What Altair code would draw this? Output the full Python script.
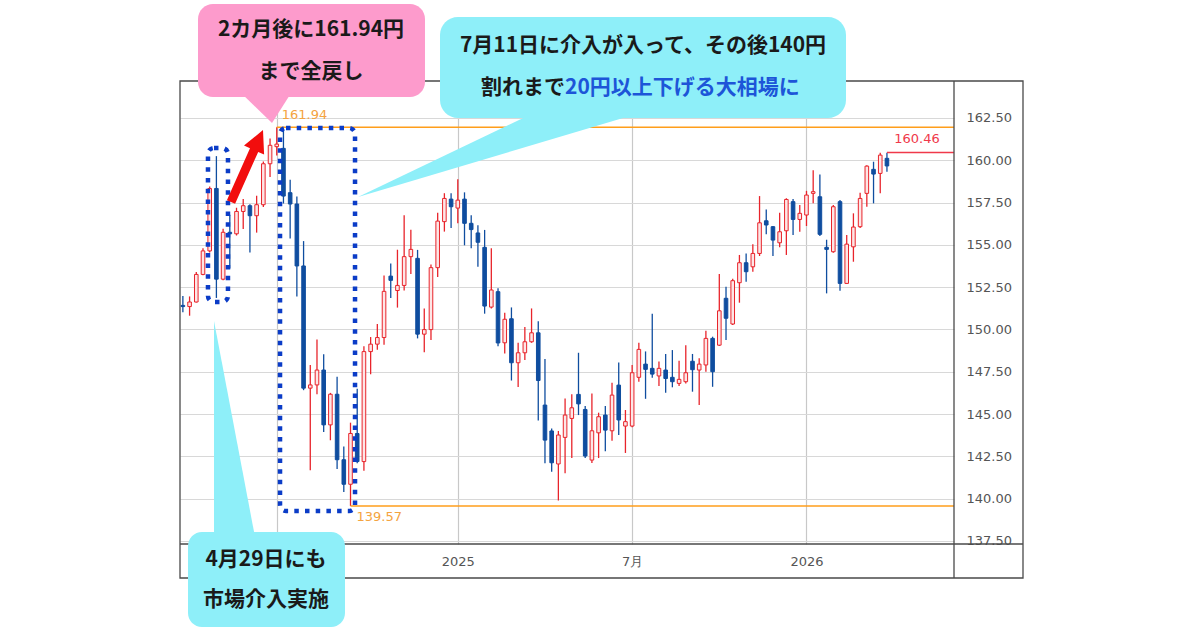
import altair as alt
import pandas as pd

# ---------------- data (USD/JPY weekly candles) ----------------
week_starts = pd.date_range("2024-03-25", periods=106, freq="7D").strftime("%Y-%m-%d").tolist()

opens = [151.42, 151.35, 151.62, 153.25, 154.64, 158.33, 152.97, 155.74, 155.65, 156.97,
         157.31, 156.72, 157.37, 159.79, 160.80, 160.70, 158.08, 157.41, 153.75, 146.53,
         146.72, 147.60, 144.36, 146.17, 142.30, 140.85, 143.85, 142.19, 148.69, 149.13,
         149.52, 153.15, 152.30, 152.60, 154.30, 154.20, 149.72, 149.99, 153.65, 156.37,
         157.70, 157.17, 157.70, 156.27, 155.70, 154.85, 151.32, 152.23, 149.21, 150.63,
         148.03, 148.62, 149.27, 149.80, 145.53, 144.00, 142.05, 143.62, 144.74, 146.16,
         145.27, 142.28, 143.89, 144.94, 144.01, 146.71, 144.29, 144.29, 147.17, 147.95,
         147.70, 147.25, 147.60, 147.17, 146.81, 146.91, 148.12, 147.60, 147.90, 149.47,
         149.07, 151.84, 150.32, 152.76, 153.94, 153.70, 154.49, 156.42, 156.07, 155.12,
         155.83, 157.55, 156.50, 156.76, 158.04, 157.84, 154.85, 154.59, 157.55, 152.72,
         154.88, 156.07, 158.04, 159.46, 159.22, 160.11]
highs = [151.97, 151.95, 153.39, 154.79, 158.44, 160.24, 155.95, 156.78, 157.19, 157.71,
         157.40, 157.90, 159.92, 161.28, 161.94, 161.80, 158.85, 157.86, 155.22, 147.90,
         149.40, 148.54, 146.25, 147.21, 143.08, 144.49, 146.49, 149.01, 149.55, 150.32,
         153.19, 153.89, 154.71, 156.75, 155.89, 154.70, 151.23, 153.84, 156.90, 158.05,
         158.05, 158.88, 158.10, 156.75, 156.16, 155.88, 154.80, 152.43, 150.99, 151.30,
         149.21, 150.15, 151.24, 150.49, 148.25, 144.15, 144.00, 145.92, 146.17, 148.62,
         145.47, 146.22, 145.08, 145.47, 146.85, 148.05, 145.24, 147.90, 149.21, 148.70,
         150.92, 148.10, 148.55, 148.78, 148.15, 149.07, 148.55, 148.29, 149.92, 149.57,
         153.27, 152.52, 153.00, 154.40, 154.49, 155.04, 157.88, 157.09, 156.11, 156.89,
         157.75, 157.70, 157.35, 158.19, 159.40, 159.16, 155.30, 157.35, 157.65, 155.58,
         156.86, 158.08, 159.70, 159.91, 160.44, 160.44]
lows = [151.02, 150.81, 151.59, 153.20, 154.54, 151.86, 152.90, 153.60, 155.55, 155.93,
        154.55, 155.72, 157.23, 159.00, 160.28, 157.44, 155.37, 151.94, 146.41, 141.68,
        146.17, 143.94, 143.45, 141.75, 140.40, 139.57, 142.09, 141.65, 147.35, 148.80,
        149.09, 151.85, 151.29, 152.30, 153.28, 149.47, 148.65, 149.38, 153.10, 155.78,
        155.99, 156.28, 154.97, 154.79, 153.71, 150.93, 151.24, 149.00, 148.57, 146.98,
        146.60, 148.20, 149.21, 144.62, 142.09, 141.59, 139.89, 141.50, 142.40, 144.94,
        142.40, 142.11, 142.40, 142.80, 143.42, 143.76, 142.70, 144.22, 146.91, 145.90,
        147.15, 146.65, 146.26, 146.58, 146.65, 146.81, 146.32, 145.53, 147.50, 146.61,
        149.02, 149.37, 150.26, 151.58, 152.82, 153.41, 154.34, 155.63, 154.34, 154.85,
        154.40, 155.58, 155.77, 156.11, 157.45, 155.52, 152.13, 154.53, 152.29, 152.68,
        154.00, 156.00, 157.25, 157.45, 158.04, 159.32]
closes = [151.35, 151.62, 153.25, 154.64, 158.33, 152.97, 155.74, 155.65, 156.97, 157.31,
          156.72, 157.37, 159.79, 160.88, 160.95, 157.88, 157.41, 153.75, 146.53, 146.72,
          147.60, 144.36, 146.17, 142.30, 140.85, 143.85, 142.19, 148.69, 149.13, 149.52,
          152.25, 152.90, 152.60, 154.30, 154.73, 149.72, 149.99, 153.65, 156.40, 157.74,
          157.25, 157.64, 156.27, 155.90, 155.15, 151.38, 152.33, 149.20, 150.60, 148.03,
          148.62, 149.27, 149.80, 146.98, 143.46, 142.12, 143.76, 144.94, 145.37, 145.60,
          142.52, 144.01, 144.84, 144.05, 146.12, 144.65, 144.55, 147.44, 148.82, 147.64,
          147.36, 147.70, 147.10, 146.91, 147.05, 147.44, 147.62, 147.95, 149.47, 147.50,
          151.10, 150.66, 152.88, 153.94, 153.41, 154.49, 156.30, 156.17, 155.28, 155.77,
          157.68, 156.50, 156.86, 157.94, 158.14, 155.62, 154.73, 157.25, 152.72, 155.04,
          156.05, 157.74, 159.65, 159.18, 160.30, 159.66]

# reference levels
orange_starts = ["2024-07-01", "2024-09-16"]
orange_levels = [161.94, 139.57]
last_start = ["2026-03-30"]
last_level = [160.46]

# axis ticks
y_ticks = [137.5, 140.0, 142.5, 145.0, 147.5, 150.0, 152.5, 155.0, 157.5, 160.0, 162.5]

df = pd.DataFrame({"date": week_starts, "open": opens, "high": highs,
                   "low": lows, "close": closes})
df["dir"] = ["up" if c >= o else "down" for o, c in zip(opens, closes)]

# ---------------- styling ----------------
RED = "#e8242b"
BLUE = "#0f4d9f"
PINKFILL = "#fde6e6"
ORANGE = "#ff9e1b"
PRICE_RED = "#f0394a"
DOT_BLUE = "#0b3cc7"
CALLOUT_PINK = "#fd9bcc"
CALLOUT_CYAN = "#8eeff9"
FRAME = "#4a4a4a"
JP_FONT = "Noto Sans CJK JP"

W, H = 774, 463

xscale = alt.Scale(type="utc", padding=0,
                   domain=[alt.DateTime(year=2024, month=3, date=22, utc=True),
                           alt.DateTime(year=2026, month=6, date=8, utc=True)])
yscale = alt.Scale(domain=[137.32, 164.68], zero=False, nice=False, padding=0)

xaxis = alt.Axis(
    values=[alt.DateTime(year=2024, month=7, date=1, utc=True),
            alt.DateTime(year=2025, month=1, date=6, utc=True),
            alt.DateTime(year=2025, month=7, date=7, utc=True),
            alt.DateTime(year=2026, month=1, date=5, utc=True)],
    # the July-2024 label sits under the callout box in the reference, so it is left blank
    labelExpr="utcyear(datum.value) == 2024 ? '' : (utcmonth(datum.value) == 0 ? '' + utcyear(datum.value) : (utcmonth(datum.value) + 1) + '月')",
    title=None, grid=True, gridColor="#c8c8c8", gridWidth=1.2, ticks=False, domain=False,
    labelPadding=11, labelFontSize=13, labelColor="#555555", labelFont="DejaVu Sans",
)
yaxis = alt.Axis(
    orient="right", values=y_ticks, format=".2f", title=None, grid=True,
    gridColor="#d8d8d8", gridWidth=1.2, ticks=False, domain=False, labelPadding=12,
    labelFontSize=13, labelColor="#555555", labelFont="DejaVu Sans",
)

X = alt.X("date:T", scale=xscale, axis=xaxis)

wicks = alt.Chart(df).mark_rule(strokeWidth=1.3).encode(
    x=X,
    y=alt.Y("low:Q", scale=yscale, axis=yaxis),
    y2="high:Q",
    color=alt.Color("dir:N", scale=alt.Scale(domain=["up", "down"], range=[RED, BLUE]), legend=None),
)
bodies = alt.Chart(df).mark_bar(size=3.6, strokeWidth=1).encode(
    x=X,
    y=alt.Y("open:Q", scale=yscale, axis=yaxis),
    y2="close:Q",
    fill=alt.Fill("dir:N", scale=alt.Scale(domain=["up", "down"], range=[PINKFILL, BLUE]), legend=None),
    stroke=alt.Stroke("dir:N", scale=alt.Scale(domain=["up", "down"], range=[RED, BLUE]), legend=None),
)

odf = pd.DataFrame({"start": orange_starts, "price": orange_levels})
ldf = pd.DataFrame({"start": last_start, "price": last_level})

XS = alt.X("start:T", scale=xscale, axis=xaxis)
YS = alt.Y("price:Q", scale=yscale, axis=yaxis)

orange_lines = alt.Chart(odf).mark_rule(color=ORANGE, strokeWidth=1.5).encode(x=XS, x2=alt.value(W), y=YS)
last_line = alt.Chart(ldf).mark_rule(color=PRICE_RED, strokeWidth=1.5).encode(x=XS, x2=alt.value(W), y=YS)

hi_label = alt.Chart(odf.iloc[[0]]).mark_text(align="left", baseline="middle", dx=5, dy=-12,
                                              color="#f4a340", fontSize=13, font="DejaVu Sans").encode(
    x=XS, y=YS, text=alt.Text("price:Q", format=".2f"))
lo_label = alt.Chart(odf.iloc[[1]]).mark_text(align="left", baseline="middle", dx=6, dy=11,
                                              color="#f4a340", fontSize=13, font="DejaVu Sans").encode(
    x=XS, y=YS, text=alt.Text("price:Q", format=".2f"))
last_label = alt.Chart(ldf).mark_text(align="center", baseline="middle", dx=30, dy=-13,
                                      color=PRICE_RED, fontSize=13, font="DejaVu Sans").encode(
    x=XS, y=YS, text=alt.Text("price:Q", format=".2f"))

# ---------------- annotations ----------------
one = pd.DataFrame({"k": [0]})

# dotted boxes around the intervention weeks (in data coordinates)
boxes = pd.DataFrame({
    "x0": ["2024-04-20T05:00:00Z", "2024-07-04T10:00:00Z"],
    "x1": ["2024-05-11T02:00:00Z", "2024-09-20T17:00:00Z"],
    "y0": [151.62, 139.27],
    "y1": [160.72, 161.90],
})
dotted = alt.Chart(boxes).mark_rect(fill="transparent", stroke=DOT_BLUE, strokeWidth=4.5,
                                     strokeDash=[4.5, 6.2], cornerRadius=6).encode(
    x=alt.X("x0:T", scale=xscale, axis=xaxis), x2="x1:T",
    y=alt.Y("y0:Q", scale=yscale, axis=yaxis), y2="y1:Q")

def shape(path, px, py, color):
    return alt.Chart(one).mark_point(shape=path, size=4, filled=True, fill=color, opacity=1,
                                     strokeWidth=0).encode(x=alt.value(px), y=alt.value(py))

arrow = shape("M4.1,1.8 L27.2,-50.1 L33.1,-47.4 L32,-72 L13,-56.4 L19,-53.7 L-4.1,-1.8 Z", 51, 121, "#f20d0d")

pink_tri = shape("M0,0 L-34,-33 L21,-33 Z", 92, 42, CALLOUT_PINK)
cyan_tri = shape("M0,0 L182,-87 L292,-87 Z", 178, 116, CALLOUT_CYAN)
cyan_tri2 = shape("M0,0 L0,216 L41,216 Z", 34, 240, CALLOUT_CYAN)

def box(x0, x1, y0, y1, color, r):
    return alt.Chart(one).mark_rect(fill=color, cornerRadius=r).encode(
        x=alt.value(x0), x2=alt.value(x1), y=alt.value(y0), y2=alt.value(y1))

pink_box = box(18, 245, -77, 16, CALLOUT_PINK, 15)
cyan_box = box(260, 666, -64, 37, CALLOUT_CYAN, 18)
cyan_box2 = box(8, 165, 451, 546, CALLOUT_CYAN, 14)

def label(txt, px, py, color="#1a1a1a", align="center"):
    return alt.Chart(one).mark_text(text=txt, align=align, baseline="middle", font=JP_FONT,
                                    fontWeight="bold", fontSize=21, color=color).encode(
        x=alt.value(px), y=alt.value(py))

texts = [
    label("2カ月後に161.94円", 131, -51),
    label("まで全戻し", 131, -9),
    label("7月11日に介入が入って、その後140円", 463, -35),
    label("割れまで", 385, 7, align="right"),
    label("20円以上下げる大相場に", 385, 7, color="#1d55d8", align="left"),
    label("4月29日にも", 86, 479),
    label("市場介入実施", 86, 519),
]

# frame of the chart panel
mask = box(776, 842, 464, 496, "white", 0)
frame = alt.Chart(one).mark_rect(fill="transparent", stroke=FRAME, strokeWidth=1.3).encode(
    x=alt.value(0), x2=alt.value(843), y=alt.value(0), y2=alt.value(497))
vsep = alt.Chart(one).mark_rule(color=FRAME, strokeWidth=1.3).encode(
    x=alt.value(W), y=alt.value(0), y2=alt.value(497))
hsep = alt.Chart(one).mark_rule(color=FRAME, strokeWidth=1.3).encode(
    x=alt.value(0), x2=alt.value(843), y=alt.value(H))

chart = alt.layer(
    wicks, orange_lines, last_line, bodies, hi_label, lo_label, last_label,
    mask, frame, vsep, hsep, dotted, arrow,
    pink_tri, cyan_tri, cyan_tri2, pink_box, cyan_box, cyan_box2, *texts,
).properties(
    width=W, height=H,
    padding={"left": 180, "top": 81, "right": 246, "bottom": 86},
    autosize=alt.AutoSizeParams(type="none"),
    background="white",
).configure_view(stroke=None)

chart.save("out.html", embed_options={"renderer": "svg", "actions": False})
